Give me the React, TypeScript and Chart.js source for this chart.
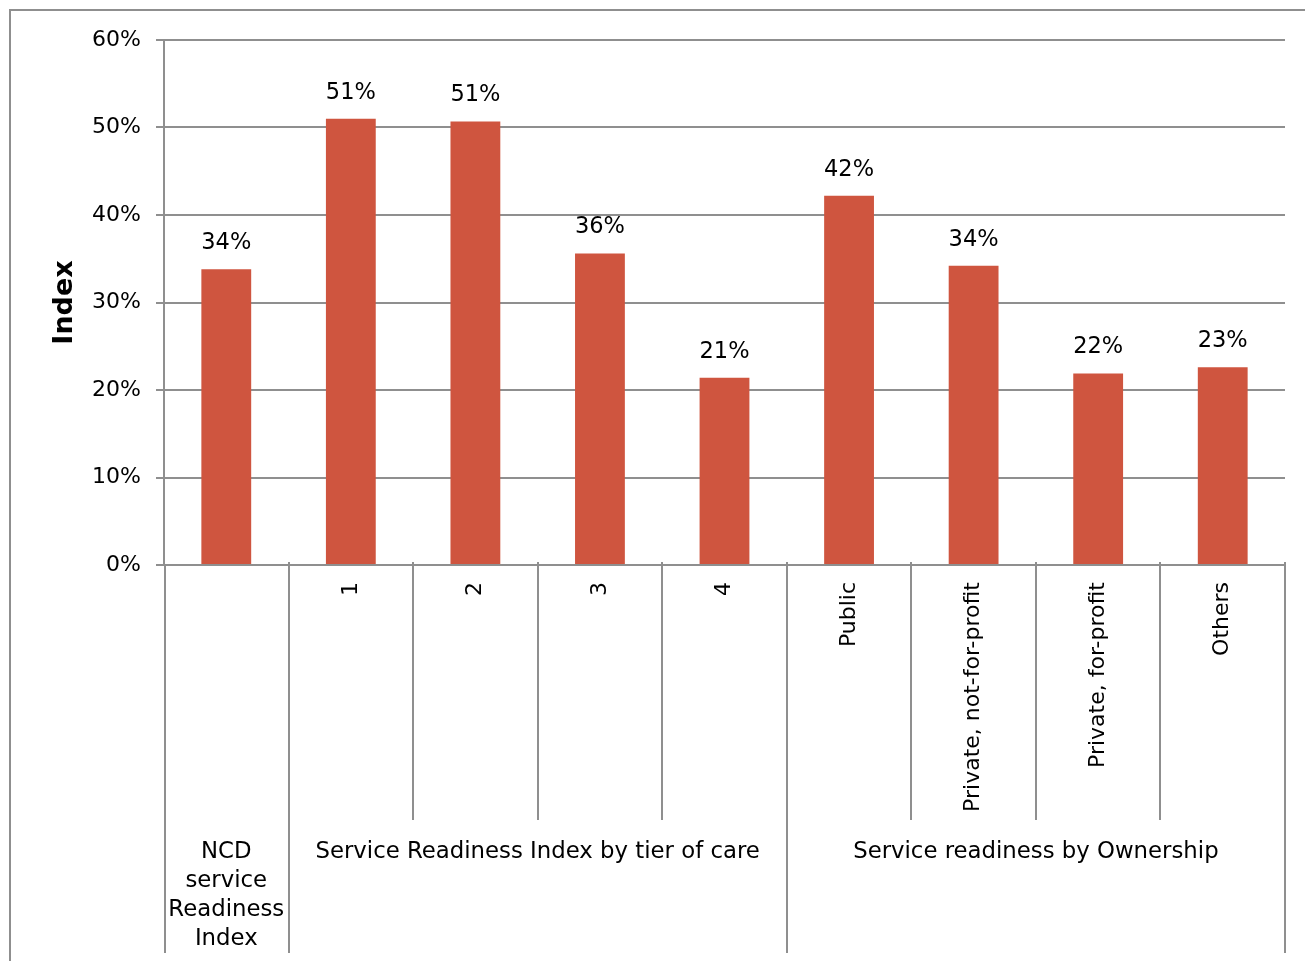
import React, { useEffect, useRef } from "react";
import { Chart, registerables } from "chart.js";
Chart.register(...registerables);

const categories = ["NCD service Readiness Index", "1", "2", "3", "4", "Public", "Private, not-for-profit", "Private, for-profit", "Others"];
const tickLabels = ["", "1", "2", "3", "4", "Public", "Private, not-for-profit", "Private, for-profit", "Others"];
const values = [33.8, 51.0, 50.7, 35.6, 21.4, 42.2, 34.2, 21.9, 22.6];
const groupLabels = [["NCD", "service", "Readiness", "Index"], ["Service Readiness Index by tier of care"], ["Service readiness by Ownership"]];
const groupStarts = [0, 1, 5];
const groupEnds = [0, 4, 8];
const yTicks = [0, 10, 20, 30, 40, 50, 60];

const FONT = "'DejaVu Sans'";
const GRAY = "#8f8f8f";
const BAR = "#CF553F";

const customPlugin = {
  id: "custom",
  beforeDraw(chart: any) {
    const ctx = chart.ctx;
    ctx.save();
    ctx.strokeStyle = GRAY;
    ctx.lineWidth = 2;
    ctx.strokeRect(10, 10, 1400, 1000);
    ctx.restore();
  },
  afterDatasetsDraw(chart: any) {
    const ctx = chart.ctx;
    const x = chart.scales.x;
    const area = chart.chartArea;
    const n = categories.length;
    const half = (x.getPixelForValue(1) - x.getPixelForValue(0)) / 2;
    const bound = (i: number) => (i < n ? x.getPixelForValue(i) - half : x.getPixelForValue(n - 1) + half);
    const fullSet = new Set<number>([0]);
    groupEnds.forEach((e) => fullSet.add(e + 1));
    groupStarts.forEach((s) => fullSet.add(s));
    ctx.save();
    ctx.strokeStyle = GRAY;
    ctx.lineWidth = 2;
    for (let i = 0; i <= n; i++) {
      const bx = Math.round(bound(i)) + (i === 0 ? 1 : 0);
      const full = fullSet.has(i);
      ctx.beginPath();
      ctx.moveTo(bx, area.bottom - (i === 0 ? 0 : 3));
      ctx.lineTo(bx, full ? 953 : 820);
      ctx.stroke();
    }
    // rotated tick labels
    ctx.fillStyle = "#000";
    ctx.font = `22px ${FONT}`;
    for (let i = 0; i < n; i++) {
      if (!tickLabels[i]) continue;
      ctx.save();
      ctx.translate(x.getPixelForValue(i), area.bottom + 17);
      ctx.rotate(-Math.PI / 2);
      ctx.textAlign = "right";
      ctx.textBaseline = "middle";
      ctx.fillText(tickLabels[i], 0, 0);
      ctx.restore();
    }
    // group labels
    ctx.textAlign = "center";
    ctx.textBaseline = "middle";
    ctx.font = `22.8px ${FONT}`;
    for (let g = 0; g < groupLabels.length; g++) {
      const cx = (bound(groupStarts[g]) + bound(groupEnds[g] + 1)) / 2;
      groupLabels[g].forEach((line, k) => {
        ctx.fillText(line, cx, 852 + k * 29);
      });
    }
    // value labels
    ctx.font = `22.5px ${FONT}`;
    const meta = chart.getDatasetMeta(0);
    meta.data.forEach((el: any, i: number) => {
      ctx.fillText(Math.round(values[i]) + "%", el.x, el.y - 26);
    });
    ctx.restore();
  },
};

export default function App() {
  const ref = useRef<HTMLCanvasElement>(null);
  useEffect(() => {
    if (!ref.current) return;
    const chart = new Chart(ref.current, {
      type: "bar",
      data: {
        labels: categories,
        datasets: [
          {
            data: values,
            backgroundColor: BAR,
            barPercentage: 0.4,
            categoryPercentage: 1,
          },
        ],
      },
      options: {
        animation: false,
        responsive: true,
        maintainAspectRatio: false,
        layout: { padding: { left: 0, right: 20, top: 40, bottom: 396 } },
        plugins: { legend: { display: false }, tooltip: { enabled: false } },
        scales: {
          x: { display: false, offset: true },
          y: {
            min: 0,
            max: 60,
            afterFit: (s: any) => {
              s.width = 164;
            },
            afterBuildTicks: (s: any) => {
              s.ticks = yTicks.map((v) => ({ value: v }));
            },
            ticks: {
              callback: (v: any) => v + "%",
              font: { family: "DejaVu Sans", size: 22 },
              color: "#000",
              padding: 15,
            },
            grid: { color: GRAY, lineWidth: 2, tickLength: 8 },
            border: { display: true, color: GRAY, width: 2 },
            title: {
              display: true,
              text: "Index",
              font: { family: "DejaVu Sans", size: 27, weight: "bold" },
              color: "#000",
              padding: { top: 49, bottom: 0 },
            },
          },
        },
      },
      plugins: [customPlugin],
    });
    return () => chart.destroy();
  }, []);
  return (
    <div style={{ position: "absolute", left: 0, top: 0, width: 1305, height: 961 }}>
      <canvas ref={ref} />
    </div>
  );
}
